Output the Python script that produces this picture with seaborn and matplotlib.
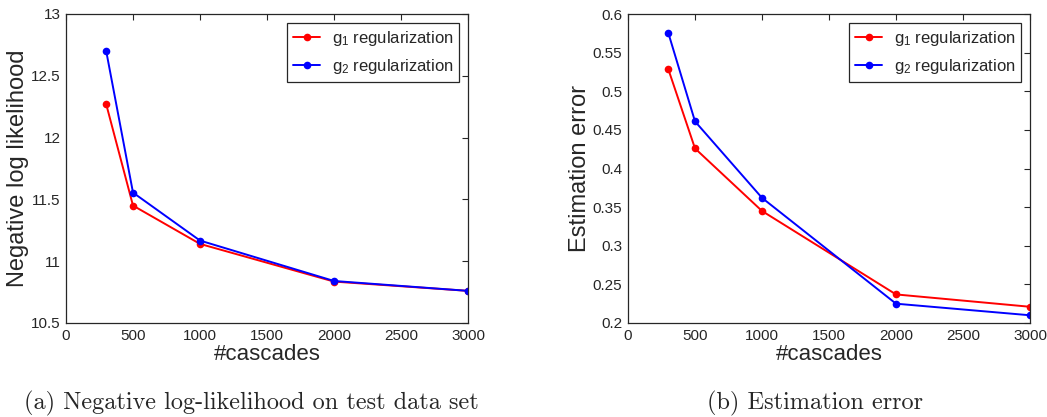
import matplotlib
matplotlib.use("Agg")
import matplotlib.pyplot as plt
import seaborn as sns
import pandas as pd

cascades = [300, 500, 1000, 2000, 3000]
nll_g1 = [12.27, 11.45, 11.14, 10.835, 10.76]
nll_g2 = [12.70, 11.555, 11.167, 10.84, 10.76]
err_g1 = [0.529, 0.426, 0.345, 0.237, 0.221]
err_g2 = [0.576, 0.461, 0.362, 0.225, 0.210]
labels = ["$\\mathregular{g_1}$ regularization", "$\\mathregular{g_2}$ regularization"]
colors = ["#ff0000", "#0000ff"]

sns.set_theme(style="white")
plt.rcParams["font.family"] = ["Liberation Sans", "DejaVu Sans"]
plt.rcParams["mathtext.fontset"] = "custom"
plt.rcParams["mathtext.rm"] = "Liberation Sans"

W, H = 1047, 417
fig = plt.figure(figsize=(W / 100, H / 100), dpi=100)
ax1 = fig.add_axes([66 / W, (H - 323) / H, 402 / W, 309 / H])
ax2 = fig.add_axes([628 / W, (H - 323) / H, 402 / W, 309 / H])


def make_df(a, b):
    return pd.DataFrame({
        "cascades": cascades * 2,
        "value": a + b,
        "method": [labels[0]] * len(cascades) + [labels[1]] * len(cascades),
    })


def draw(ax, df, ylim, yticks, ylabel):
    sns.lineplot(data=df, x="cascades", y="value", hue="method",
                 palette=dict(zip(labels, colors)), marker="o",
                 markersize=5.5, markeredgewidth=0, linewidth=1.4, ax=ax)
    ax.set_xlim(0, 3000)
    ax.set_ylim(*ylim)
    ax.set_xticks([0, 500, 1000, 1500, 2000, 2500, 3000])
    ax.set_yticks(yticks)
    ax.set_yticklabels([f"{t:g}" for t in yticks])
    ax.set_xlabel("#cascades", fontsize=16, color="#262626", labelpad=1)
    ax.set_ylabel(ylabel, fontsize=17, color="#262626", labelpad=1)
    ax.tick_params(direction="in", length=4, width=0.8, top=True, right=True,
                   labelsize=11, colors="#262626", pad=4)
    for s in ax.spines.values():
        s.set_color("#262626")
        s.set_linewidth(0.9)
    h, l = ax.get_legend_handles_labels()
    leg = ax.legend(h, l, loc="upper right", bbox_to_anchor=(1 - 9 / 402, 1 - 9 / 309),
                    borderaxespad=0, fontsize=12, frameon=True, fancybox=False,
                    framealpha=1, edgecolor="#262626", handlelength=1.6,
                    handletextpad=0.7, borderpad=0.35, labelspacing=0.55)
    leg.get_frame().set_linewidth(0.9)


draw(ax1, make_df(nll_g1, nll_g2), (10.5, 13), [10.5, 11, 11.5, 12, 12.5, 13],
     "Negative log likelihood")
draw(ax2, make_df(err_g1, err_g2), (0.2, 0.6),
     [0.2, 0.25, 0.3, 0.35, 0.4, 0.45, 0.5, 0.55, 0.6], "Estimation error")

fig.text(251 / W, 1 - 403 / H, "(a) Negative log-likelihood on test data set",
         ha="center", va="center", fontsize=17.5, family=["cmr10", "DejaVu Serif"])
fig.text(815 / W, 1 - 403 / H, "(b) Estimation error",
         ha="center", va="center", fontsize=17.5, family=["cmr10", "DejaVu Serif"])

fig.savefig("out.png", dpi=100)
